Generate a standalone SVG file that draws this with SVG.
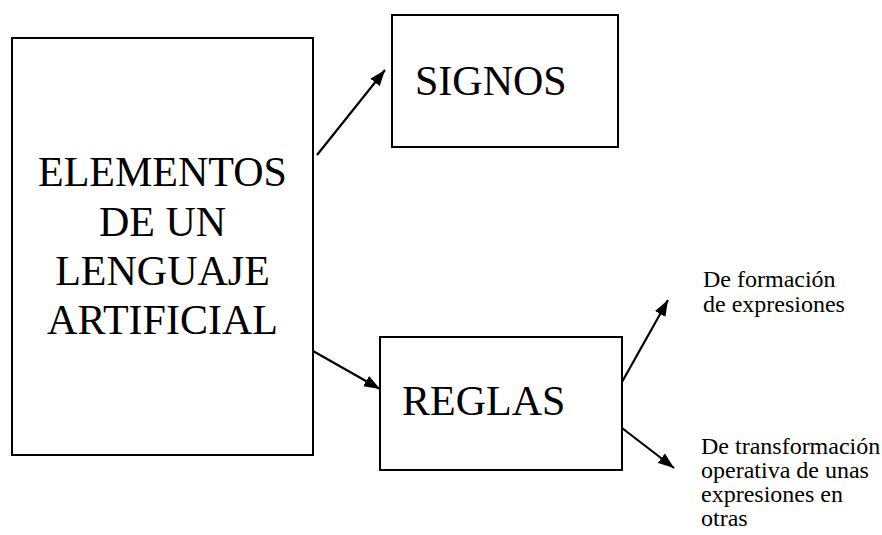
<svg xmlns="http://www.w3.org/2000/svg" width="882" height="535" viewBox="0 0 882 535">
<defs>
<marker id="ah" markerUnits="userSpaceOnUse" markerWidth="16" markerHeight="12" refX="16" refY="6" orient="auto">
<path d="M0,0 L16,6 L0,12 z" fill="#000"/>
</marker>
</defs>
<rect width="882" height="535" fill="#fff"/>
<g id="elementos">
<rect x="12" y="38" width="301" height="417" fill="#fff" stroke="#000" stroke-width="2"/>
<text font-family="Liberation Serif" font-size="42" text-anchor="middle" x="162.5" y="186">ELEMENTOS</text>
<text font-family="Liberation Serif" font-size="42" text-anchor="middle" x="162.5" y="236">DE UN</text>
<text font-family="Liberation Serif" font-size="42" text-anchor="middle" x="162.5" y="285">LENGUAJE</text>
<text font-family="Liberation Serif" font-size="42" text-anchor="middle" x="162.5" y="334">ARTIFICIAL</text>
</g>
<g id="signos">
<rect x="392" y="15" width="226" height="132" fill="#fff" stroke="#000" stroke-width="2"/>
<text font-family="Liberation Serif" font-size="42" x="415" y="95">SIGNOS</text>
</g>
<g id="reglas">
<rect x="380" y="337" width="242" height="133" fill="#fff" stroke="#000" stroke-width="2"/>
<text font-family="Liberation Serif" font-size="42" x="402" y="415">REGLAS</text>
</g>
<g id="formacion">
<text font-family="Liberation Serif" font-size="24" x="703" y="287">De formaci&#243;n</text>
<text font-family="Liberation Serif" font-size="24" x="703" y="312">de expresiones</text>
</g>
<g id="transformacion">
<text font-family="Liberation Serif" font-size="24" x="701" y="454">De transformaci&#243;n</text>
<text font-family="Liberation Serif" font-size="24" x="701" y="478">operativa de unas</text>
<text font-family="Liberation Serif" font-size="24" x="701" y="502">expresiones en</text>
<text font-family="Liberation Serif" font-size="24" x="701" y="526">otras</text>
</g>
<g id="connectors" stroke="#000" stroke-width="2.2" fill="none" marker-end="url(#ah)">
<line x1="317" y1="155" x2="385" y2="70"/>
<line x1="313" y1="351" x2="380" y2="389"/>
<line x1="622" y1="382" x2="668" y2="300"/>
<line x1="622" y1="428" x2="674" y2="468"/>
</g>
</svg>
